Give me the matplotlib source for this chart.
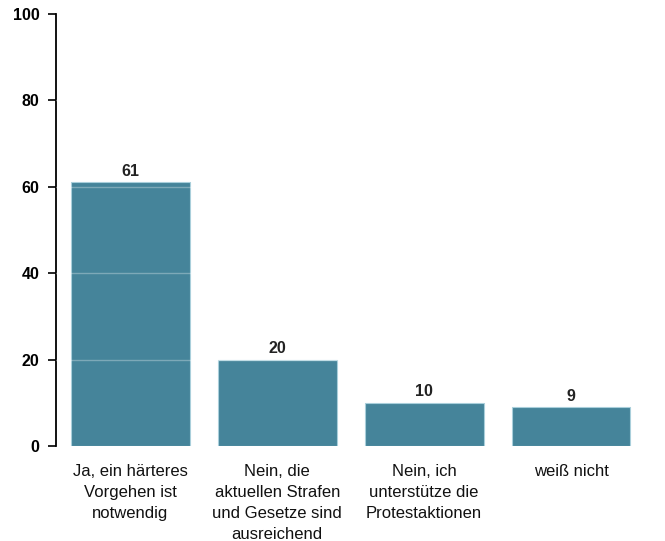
import matplotlib
matplotlib.use("Agg")
import matplotlib.pyplot as plt

categories = [
    "Ja, ein härteres\nVorgehen ist\nnotwendig",
    "Nein, die\naktuellen Strafen\nund Gesetze sind\nausreichend",
    "Nein, ich\nunterstütze die\nProtestaktionen",
    "weiß nicht",
]
values = [61, 20, 10, 9]
yticks = [0, 20, 40, 60, 80, 100]

plt.rcParams['font.family'] = ['Liberation Sans', 'DejaVu Sans']

fig = plt.figure(figsize=(6.65, 5.41), dpi=100)
ax = fig.add_axes([56 / 665, 95 / 541, 584 / 665, 432 / 541])

x = list(range(len(values)))
ax.bar(x, values, width=0.81, color='#45849a', edgecolor='#a9cfdb', linewidth=0.8, zorder=2)

for xi, v in zip(x, values):
    ax.annotate(str(v), (xi, v), xytext=(0, 2.5), textcoords='offset points',
                ha='center', va='bottom', fontsize=11.5, fontweight='bold', color='#222222')

for t in yticks[1:-1]:
    ax.axhline(t, color='white', alpha=0.3, linewidth=1, zorder=3)

ax.set_xlim(-0.507, 3.47)
ax.set_ylim(0, 100)
ax.set_yticks(yticks)
ax.set_xticks(x)
ax.set_xticklabels(categories, fontsize=12, linespacing=1.5, color='#111111')

for s in ['top', 'right', 'bottom']:
    ax.spines[s].set_visible(False)
ax.spines['left'].set_linewidth(1.3)
ax.spines['left'].set_bounds(0, 100)

ax.tick_params(axis='y', length=6, width=1.2, pad=6, labelsize=11.5)
for lbl in ax.get_yticklabels():
    lbl.set_fontweight('bold')
ax.tick_params(axis='x', length=0, pad=13)

plt.savefig('out.png', dpi=100)
